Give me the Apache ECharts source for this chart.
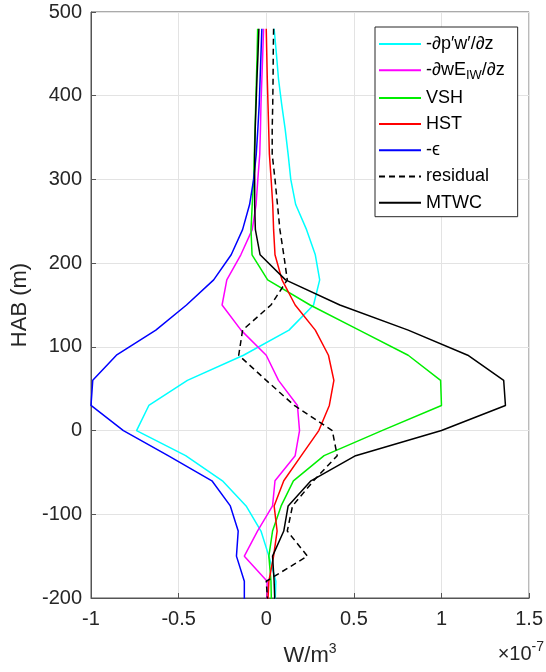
<!DOCTYPE html>
<html>
<head>
<meta charset="utf-8">
<script src="https://cdn.jsdelivr.net/npm/echarts@6/dist/echarts.min.js"></script>
<style>
  html, body { margin: 0; padding: 0; background: #fff; }
  #box { width: 546px; height: 672px; }
</style>
</head>
<body>
<div id="box"></div>
<script>
// heights above bottom (m), profiles in units of 1e-7 W/m^3
const hab = [480, 450, 420, 390, 360, 330, 300, 270, 240, 210, 180, 150, 120, 90, 60, 30, 0, -30, -60, -90, -120, -150, -180, -210];

const dPW = [0.045, 0.058, 0.07, 0.088, 0.108, 0.125, 0.14, 0.168, 0.23, 0.28, 0.305, 0.27, 0.13, -0.13, -0.45, -0.67, -0.74, -0.46, -0.25, -0.115, -0.03, 0.015, 0.055, 0.05];
const dWE = [-0.015, -0.02, -0.025, -0.03, -0.033, -0.037, -0.048, -0.058, -0.08, -0.145, -0.225, -0.252, -0.144, 0.0, 0.07, 0.178, 0.19, 0.165, 0.05, 0.036, -0.05, -0.125, 0.005, 0.005];
const vsh = [-0.049, -0.052, -0.056, -0.06, -0.064, -0.068, -0.072, -0.08, -0.087, -0.081, 0.008, 0.25, 0.53, 0.81, 0.995, 1.0, 0.66, 0.33, 0.155, 0.085, 0.036, 0.015, 0.027, 0.03];
const hst = [0.0, 0.003, 0.006, 0.01, 0.014, 0.018, 0.028, 0.037, 0.042, 0.05, 0.09, 0.165, 0.28, 0.355, 0.386, 0.36, 0.3, 0.2, 0.1, 0.045, 0.062, 0.042, 0.015, 0.008];
const eps = [-0.025, -0.03, -0.035, -0.04, -0.048, -0.057, -0.072, -0.095, -0.135, -0.2, -0.3, -0.455, -0.63, -0.855, -0.99, -1.0, -0.815, -0.56, -0.31, -0.205, -0.16, -0.17, -0.125, -0.125];
const resid = [0.042, 0.04, 0.039, 0.037, 0.034, 0.034, 0.05, 0.064, 0.078, 0.1, 0.12, 0.027, -0.135, -0.157, 0.0, 0.16, 0.377, 0.405, 0.27, 0.15, 0.12, 0.235, 0.0, 0.01];
const mtwc = [-0.042, -0.047, -0.053, -0.058, -0.063, -0.066, -0.066, -0.066, -0.062, -0.035, 0.11, 0.42, 0.81, 1.15, 1.355, 1.365, 1.0, 0.51, 0.255, 0.125, 0.1, 0.036, 0.045, 0.05];

const names = ['-∂p′w′/∂z', '-∂wEIW/∂z', 'VSH', 'HST', '-ϵ', 'residual', 'MTWC'];
const values = [dPW, dWE, vsh, hst, eps, resid, mtwc];
const colors = ['#00ffff', '#ff00ff', '#00ee00', '#ff0000', '#0000ff', '#000000', '#000000'];

const xTicks = { min: -1, max: 1.5, step: 0.5 };
const yTicks = { min: -200, max: 500, step: 100 };

const FONT = '"Liberation Sans", Arial, sans-serif';
const INK = '#262626';
const AXIS = '#555555';

function pairs(vals) {
    return vals.map((v, i) => [v, hab[i]]);
}

function initChart() {
    var chart = echarts.init(document.getElementById('box'));

    let series = names.map((n, i) => ({
        name: n,
        type: 'line',
        data: pairs(values[i]),
        showSymbol: false,
        symbol: 'none',
        animation: false,
        clip: true,
        lineStyle: {
            color: colors[i],
            width: 1.5,
            type: n === 'residual' ? [6, 4] : 'solid'
        },
        itemStyle: { color: colors[i] }
    }));

    let option = {
        backgroundColor: '#fff',
        textStyle: { fontFamily: FONT },
        grid: {
            left: 91, right: 16, top: 12, bottom: 72,
            show: true, borderColor: AXIS, borderWidth: 1, backgroundColor: 'transparent'
        },
        legend: {
            orient: 'vertical',
            left: 375, top: 27,
            padding: [7, 13, 4, 3],
            itemWidth: 42, itemHeight: 12, itemGap: 6.2,
            borderColor: INK, borderWidth: 1, borderRadius: 0,
            backgroundColor: '#fff',
            itemStyle: { opacity: 0 },
            data: names,
            formatter: function (n) {
                if (n === '-∂wEIW/∂z') return '-∂wE{sub|IW}/∂z';
                return n;
            },
            textStyle: {
                fontFamily: FONT, fontSize: 18, color: '#000', lineHeight: 20,
                rich: {
                    sub: { fontSize: 13, fontFamily: FONT, color: '#000', padding: [10, 0, 0, 0] }
                }
            }
        },
        xAxis: {
            type: 'value',
            min: xTicks.min, max: xTicks.max, interval: xTicks.step,
            name: 'W/m{sup|3}',
            nameLocation: 'middle', nameGap: 44,
            nameTextStyle: {
                fontFamily: FONT, fontSize: 22, color: INK,
                rich: { sup: { fontSize: 14, fontFamily: FONT, color: INK, padding: [0, 0, 14, 0] } }
            },
            axisLine: { onZero: false, lineStyle: { color: AXIS } },
            axisTick: { inside: true, length: 5, lineStyle: { color: AXIS } },
            axisLabel: { fontSize: 20, color: INK, margin: 11, fontFamily: FONT },
            splitLine: { show: true, lineStyle: { color: '#e3e3e3' } }
        },
        yAxis: {
            type: 'value',
            min: yTicks.min, max: yTicks.max, interval: yTicks.step,
            name: 'HAB (m)',
            nameLocation: 'middle', nameGap: 56, nameRotate: 90,
            nameTextStyle: { fontFamily: FONT, fontSize: 22, color: INK },
            axisLine: { onZero: false, lineStyle: { color: AXIS } },
            axisTick: { inside: true, length: 5, lineStyle: { color: AXIS } },
            axisLabel: { fontSize: 20, color: INK, margin: 9, fontFamily: FONT },
            splitLine: { show: true, lineStyle: { color: '#e3e3e3' } }
        },
        graphic: [{
            type: 'text',
            right: 2, top: 640,
            style: {
                text: '×10{sup|-7}',
                font: '20px ' + FONT,
                fill: INK,
                rich: { sup: { fontSize: 14, fontFamily: FONT, fill: INK, padding: [0, 0, 14, 0] } }
            }
        }],
        series: series
    };

    chart.setOption(option);
}

initChart();
</script>
</body>
</html>
